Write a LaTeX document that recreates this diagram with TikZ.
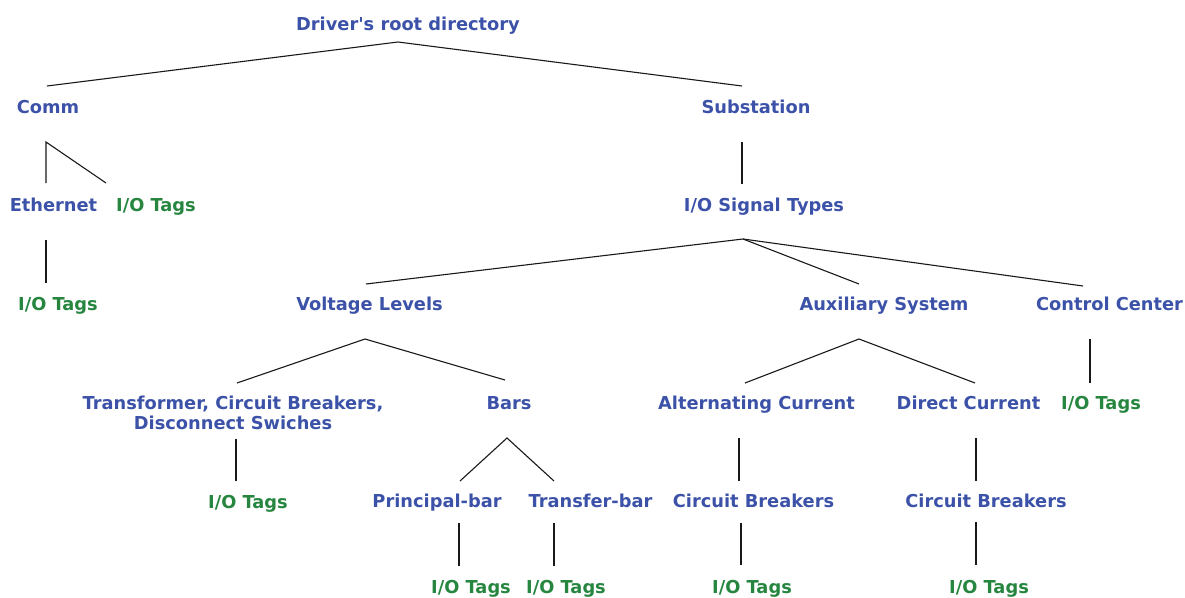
\documentclass[tikz,border=0pt]{standalone}
\usepackage{fontspec}
\newfontfamily\treefont{DejaVu Sans}
\definecolor{dirblue}{RGB}{60,82,168}
\definecolor{taggreen}{RGB}{38,134,64}
\tikzset{
  label/.style={inner sep=0pt, anchor=base,
    font=\treefont\bfseries\fontsize{17.8}{20}\selectfont},
  dir/.style={label, text=dirblue},
  tag/.style={label, text=taggreen},
  branch/.style={draw=black!90, line width=1.1pt}
}
\begin{document}
\begin{tikzpicture}[x=1pt, y=-1pt]
\useasboundingbox (0,0) rectangle (1185,597);

% ---------- labels ----------
\node[dir] (root)  at (408,30.5)  {Driver's root directory};
\node[dir] (comm)  at (48,113)    {Comm};
\node[dir] (subst) at (756,113)   {Substation};
\node[dir] (eth)   at (53.5,211.5){Ethernet};
\node[tag] (commtag) at (156,211.5) {I/O Tags};
\node[dir] (sig)   at (764,211.5) {I/O Signal Types};
\node[tag] (ethtag) at (58,310)   {I/O Tags};
\node[dir] (volt)  at (369.5,310) {Voltage Levels};
\node[dir] (aux)   at (884,310)   {Auxiliary System};
\node[dir] (ctrl)  at (1109.5,310){Control Center};
% two-line label: its base anchor sits on the second line
\node[dir, align=center] (trans) at (233,429.5)
  {Transformer, Circuit Breakers,\\Disconnect Swiches};
\node[dir] (bars)  at (509,409.5) {Bars};
\node[dir] (ac)    at (756.5,409.5) {Alternating Current};
\node[dir] (dc)    at (968.5,409.5) {Direct Current};
\node[tag] (ctrltag) at (1101,409.5) {I/O Tags};
\node[tag] (transtag) at (248,508) {I/O Tags};
\node[dir] (pbar)  at (437,507)   {Principal-bar};
\node[dir] (tbar)  at (590.5,507) {Transfer-bar};
\node[dir] (accb)  at (753.5,507) {Circuit Breakers};
\node[dir] (dccb)  at (986,507)   {Circuit Breakers};
\node[tag] (pbartag) at (471,593) {I/O Tags};
\node[tag] (tbartag) at (566,593) {I/O Tags};
\node[tag] (accbtag) at (752,593) {I/O Tags};
\node[tag] (dccbtag) at (989,593) {I/O Tags};

% ---------- branch points ----------
\coordinate (root-fork)  at (398,42);
\coordinate (comm-in)    at (47,86);
\coordinate (subst-in)   at (742,86);
\coordinate (comm-fork)  at (46,142);
\coordinate (eth-in)     at (46,183);
\coordinate (commtag-in) at (106,183);
\coordinate (eth-out)    at (46,240);
\coordinate (ethtag-in)  at (46,283);
\coordinate (subst-out)  at (742,142);
\coordinate (sig-in)     at (742,184);
\coordinate (sig-fork)   at (743,239);
\coordinate (volt-in)    at (366,284);
\coordinate (aux-in)     at (859,284);
\coordinate (ctrl-in)    at (1083,286);
\coordinate (volt-fork)  at (365,339);
\coordinate (trans-in)   at (237,383);
\coordinate (bars-in)    at (505,380);
\coordinate (trans-out)  at (236,439);
\coordinate (transtag-in) at (236,481);
\coordinate (bars-fork)  at (507,438);
\coordinate (pbar-in)    at (460,481);
\coordinate (tbar-in)    at (554,481);
\coordinate (pbar-out)   at (459,523);
\coordinate (pbartag-in) at (459,566);
\coordinate (tbar-out)   at (554,523);
\coordinate (tbartag-in) at (554,566);
\coordinate (aux-fork)   at (859,339);
\coordinate (ac-in)      at (745,383);
\coordinate (dc-in)      at (975,383);
\coordinate (ac-out)     at (739,438);
\coordinate (accb-in)    at (739,481);
\coordinate (accb-out)   at (741,523);
\coordinate (accbtag-in) at (741,565);
\coordinate (dc-out)     at (976,438);
\coordinate (dccb-in)    at (976,481);
\coordinate (dccb-out)   at (976,522);
\coordinate (dccbtag-in) at (976,565);
\coordinate (ctrl-out)   at (1090,339);
\coordinate (ctrltag-in) at (1090,383);

% ---------- branches ----------
\draw[branch] (comm-in) -- (root-fork) -- (subst-in);
\draw[branch] (eth-in) -- (comm-fork) -- (commtag-in);
\draw[branch] (eth-out) -- (ethtag-in);
\draw[branch] (subst-out) -- (sig-in);
\draw[branch] (volt-in) -- (sig-fork) -- (ctrl-in);
\draw[branch] (sig-fork) -- (aux-in);
\draw[branch] (trans-in) -- (volt-fork) -- (bars-in);
\draw[branch] (trans-out) -- (transtag-in);
\draw[branch] (pbar-in) -- (bars-fork) -- (tbar-in);
\draw[branch] (pbar-out) -- (pbartag-in);
\draw[branch] (tbar-out) -- (tbartag-in);
\draw[branch] (ac-in) -- (aux-fork) -- (dc-in);
\draw[branch] (ac-out) -- (accb-in);
\draw[branch] (accb-out) -- (accbtag-in);
\draw[branch] (dc-out) -- (dccb-in);
\draw[branch] (dccb-out) -- (dccbtag-in);
\draw[branch] (ctrl-out) -- (ctrltag-in);
\end{tikzpicture}
\end{document}
